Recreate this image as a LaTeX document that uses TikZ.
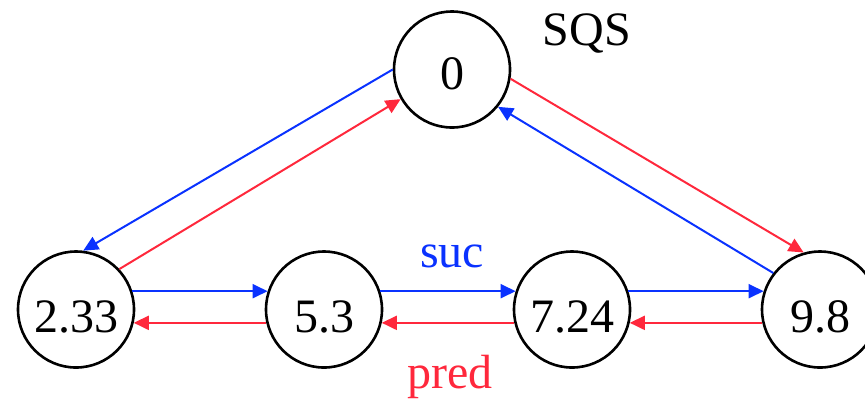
\documentclass[tikz,border=0pt]{standalone}
\usepackage{fontspec}
\setmainfont{Liberation Serif}
\usetikzlibrary{arrows.meta}
\definecolor{sucblue}{RGB}{10,50,255}
\definecolor{predred}{RGB}{255,40,60}
\begin{document}
\begin{tikzpicture}[x=0.5pt,y=-0.5pt,
  keynode/.style={circle,draw,line width=1.3pt,minimum size=58pt,inner sep=0pt,
    font=\fontsize{24}{28}\selectfont,text height=23pt,text depth=0pt},
  sucarrow/.style={draw=sucblue,line width=1pt,-{Triangle[length=7.5pt,width=7pt]},sucblue},
  predarrow/.style={draw=predred,line width=1pt,-{Triangle[length=7.5pt,width=7pt]},predred},
  lbl/.style={font=\fontsize{24}{28}\selectfont,anchor=base,inner sep=0pt}]
\clip (0,0) rectangle (865,403);
\useasboundingbox (0,0) rectangle (865,403);

% skip-list style nodes
\node[keynode,text height=19.7pt] (t) at (452,69.5) {0};
\node[keynode] (a) at (76,309.5) {2.33};
\node[keynode] (b) at (324,309.5) {5.3};
\node[keynode] (c) at (572,309.5) {7.24};
\node[keynode] (d) at (820,309.5) {9.8};

% labels
\node[lbl] (sqs) at (587,45) {SQS};
\node[lbl,text=sucblue] (suc) at (452,267) {suc};
\node[lbl,text=predred] (pred) at (450,388) {pred};

% links through the top node
\draw[sucarrow] (t.180) -- (a.83);
\draw[predarrow] (a.43) -- (t.210);
\draw[predarrow] (t.351) -- (d.106);
\draw[sucarrow] (d.142) -- (t.321);

% successor links
\draw[sucarrow] (a.18) -- (b.162);
\draw[sucarrow] (b.18) -- (c.162);
\draw[sucarrow] (c.18) -- (d.162);

% predecessor links
\draw[predarrow] (b.193) -- (a.347);
\draw[predarrow] (c.193) -- (b.347);
\draw[predarrow] (d.193) -- (c.347);
\end{tikzpicture}
\end{document}
